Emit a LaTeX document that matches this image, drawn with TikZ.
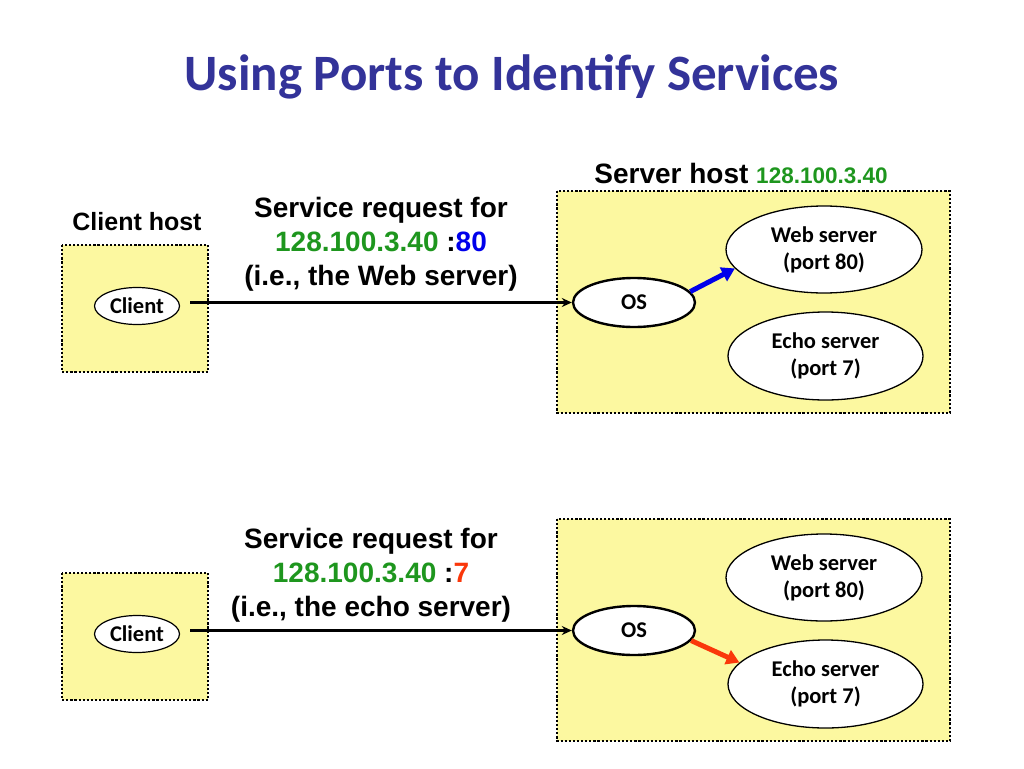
\documentclass[tikz,border=0pt]{standalone}
\usepackage{fontspec}
\setmainfont{Liberation Sans}
\newfontfamily\calibri{Carlito}
\usetikzlibrary{shapes.geometric,arrows.meta}
\definecolor{titleblue}{RGB}{51,51,153}
\definecolor{hostyellow}{RGB}{252,248,160}
\definecolor{ipgreen}{RGB}{30,150,30}
\definecolor{portblue}{RGB}{0,0,235}
\definecolor{portred}{RGB}{250,55,10}
\tikzset{
  host/.style={draw,dash pattern=on 2.2pt off 1.9pt,line width=2.6pt,fill=hostyellow},
  proc/.style={ellipse,draw,fill=white,line width=1.3pt,inner sep=0pt,align=center,
    font=\calibri\bfseries\fontsize{22.5}{27}\selectfont},
  reqtext/.style={align=center,font=\bfseries\fontsize{28}{34}\selectfont},
  req/.style={line width=2.2pt,-{Stealth[length=10pt,width=9pt]}},
  pick/.style={line width=5pt,-{Triangle[length=13pt,width=15pt]}}
}

\begin{document}
\begin{tikzpicture}[x=1pt,y=-1pt]
  \useasboundingbox (0,0) rectangle (1024,768);
  % title and host names
  \node[font=\calibri\bfseries\fontsize{51}{60}\selectfont,text=titleblue] (title) at (512,77) {Using Ports to Identify Services};
  \node[font=\bfseries\fontsize{25}{30}\selectfont] (chost) at (137,222) {Client host};
  \node[font=\bfseries\fontsize{28}{34}\selectfont] (shost) at (741,173)
    {Server host \textcolor{ipgreen}{\fontsize{22.5}{24}\selectfont 128.100.3.40}};
  % one row per request
  \foreach \dy/\rx/\ry/\port/\pcol/\what/\goal/\oa/\ga [count=\i] in
    {0/381/244/80/portblue/Web/web/11/192, 328/371/247/7/portred/echo/echo/350/166} {
    \begin{scope}[yshift=-\dy]
      \draw[host] (62,245) rectangle (208,372);
      \draw[host] (557,191) rectangle (950,413);
      \node[proc,line width=1.2pt,minimum width=85pt,minimum height=37pt] (client\i) at (137,306) {Client};
      \node[proc,line width=2.4pt,minimum width=122pt,minimum height=49pt] (os\i) at (634,302.5) {OS};
      \node[proc,minimum width=196pt,minimum height=87pt] (web\i) at (824,249.5) {Web server\\(port 80)};
      \node[proc,minimum width=195pt,minimum height=88pt] (echo\i) at (825.5,356) {Echo server\\(port 7)};
      \node[reqtext] (ask\i) at (\rx,\ry)
        {Service request for\\\textcolor{ipgreen}{128.100.3.40} :\textcolor{\pcol}{\port}\\(i.e., the \what\ server)};
      \draw[req,shorten <=10pt] (client\i.east |- os\i) -- (os\i.west);
      \draw[pick,\pcol] (os\i.\oa) -- (\goal\i.\ga);
    \end{scope}
  }
\end{tikzpicture}
\end{document}
